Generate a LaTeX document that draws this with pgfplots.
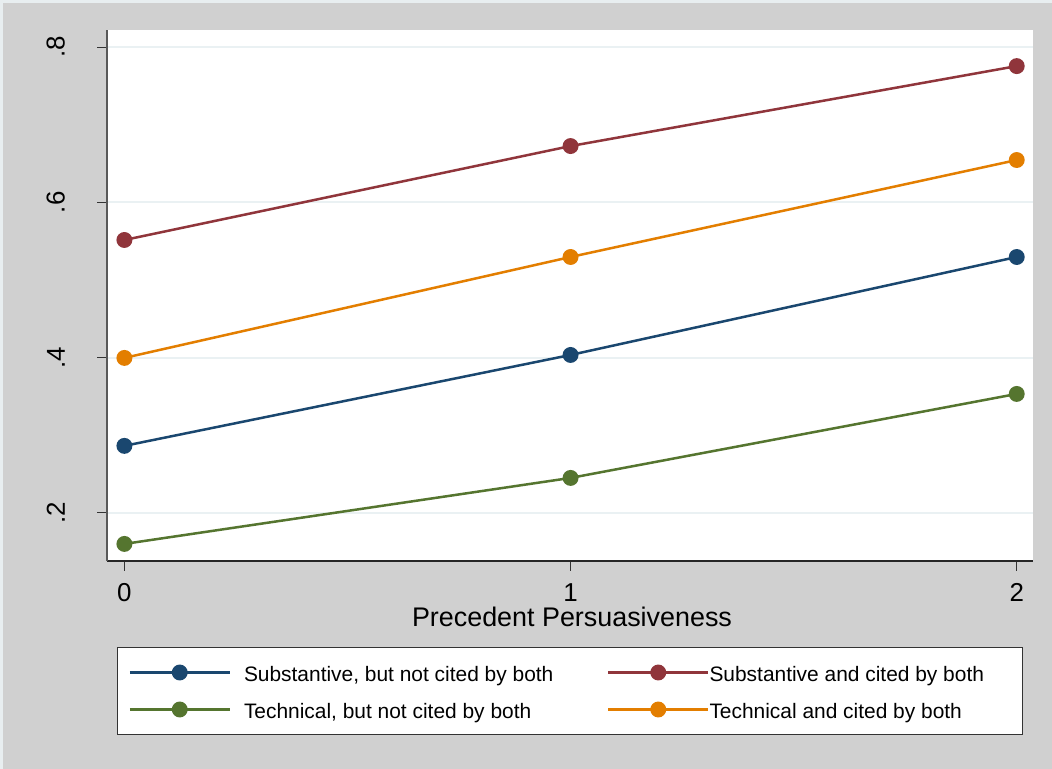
\documentclass[border=0pt]{standalone}
\usepackage{pgfplots}
\pgfplotsset{compat=1.18}
\usepackage{fontspec}
\setmainfont{Liberation Sans}
\definecolor{sNavy}{RGB}{26,71,111}
\definecolor{sMaroon}{RGB}{144,53,59}
\definecolor{sGreen}{RGB}{85,117,47}
\definecolor{sOrange}{RGB}{227,126,0}
\definecolor{bggray}{RGB}{208,208,208}
\definecolor{edgec}{RGB}{232,238,240}
\definecolor{gridc}{RGB}{234,241,243}
\begin{document}
\begin{tikzpicture}[x=1bp,y=1bp]
\fill[edgec] (0,0) rectangle (1052,769);
\fill[bggray] (3,0) rectangle (1052,766);
\begin{axis}[
  at={(107bp,208bp)}, anchor=south west,
  scale only axis, width=926bp, height=531bp,
  xmin=-0.039, xmax=2.0365, ymin=0.138, ymax=0.822,
  axis background/.style={fill=white},
  axis x line*=bottom, axis y line*=left,
  axis line style={-},
  x axis line style={draw=black!85, line width=1.2bp},
  y axis line style={draw=black!65, line width=2bp},
  xtick={0,1,2}, ytick={0.2,0.4,0.6,0.8},
  yticklabels={.2,.4,.6,.8},
  /pgf/number format/assume math mode=true,
  tick align=outside, major tick length=10bp,
  tick style={draw=black!80, line width=1bp},
  ymajorgrids, grid style={gridc, line width=2bp},
  ticklabel style={font=\fontsize{26}{26}\selectfont},
  xticklabel style={anchor=north, inner sep=0pt},
  xticklabel shift=12bp,
  yticklabel style={rotate=90, anchor=south, inner sep=0pt},
  yticklabel shift=32bp,
  every axis x label/.style={at={(axis description cs:0.5,0)}, anchor=base, yshift=-66bp, xshift=2bp, font=\fontsize{27}{27}\selectfont},
  xlabel={Precedent Persuasiveness},
  legend columns=2,
  legend style={at={(axis description cs:0,0)}, anchor=north west, xshift=10bp, yshift=-86bp,
    draw=black!80, line width=1bp, fill=white, inner xsep=11bp, inner ysep=12bp,
    font=\fontsize{21}{21}\selectfont,
    cells={anchor=west},
    nodes={inner sep=0pt, text height=22bp, text depth=4bp},
    /tikz/row sep=11bp, /tikz/column sep=0pt},
  legend image code/.code={\draw[mark repeat=2,mark phase=2,#1] plot coordinates {(0bp,0bp) (50bp,0bp) (100bp,0bp)};},
]
\addplot[sNavy, line width=2.5bp, mark=*, mark size=6.7bp, mark options={solid}] coordinates {(0,0.2863) (1,0.4034) (2,0.5296)};
\addlegendentry{\makebox[376bp][l]{\hspace*{13bp}Substantive, but not cited by both}}
\addplot[sMaroon, line width=2.5bp, mark=*, mark size=6.7bp, mark options={solid}] coordinates {(0,0.5515) (1,0.6725) (2,0.7755)};
\addlegendentry{\makebox[302bp][l]{Substantive and cited by both}}
\addplot[sGreen, line width=2.5bp, mark=*, mark size=6.7bp, mark options={solid}] coordinates {(0,0.1600) (1,0.2450) (2,0.3532)};
\addlegendentry{\makebox[376bp][l]{\hspace*{13bp}Technical, but not cited by both}}
\addplot[sOrange, line width=2.5bp, mark=*, mark size=6.7bp, mark options={solid}] coordinates {(0,0.3996) (1,0.5296) (2,0.6545)};
\addlegendentry{\makebox[302bp][l]{Technical and cited by both}}
\end{axis}
\end{tikzpicture}
\end{document}
